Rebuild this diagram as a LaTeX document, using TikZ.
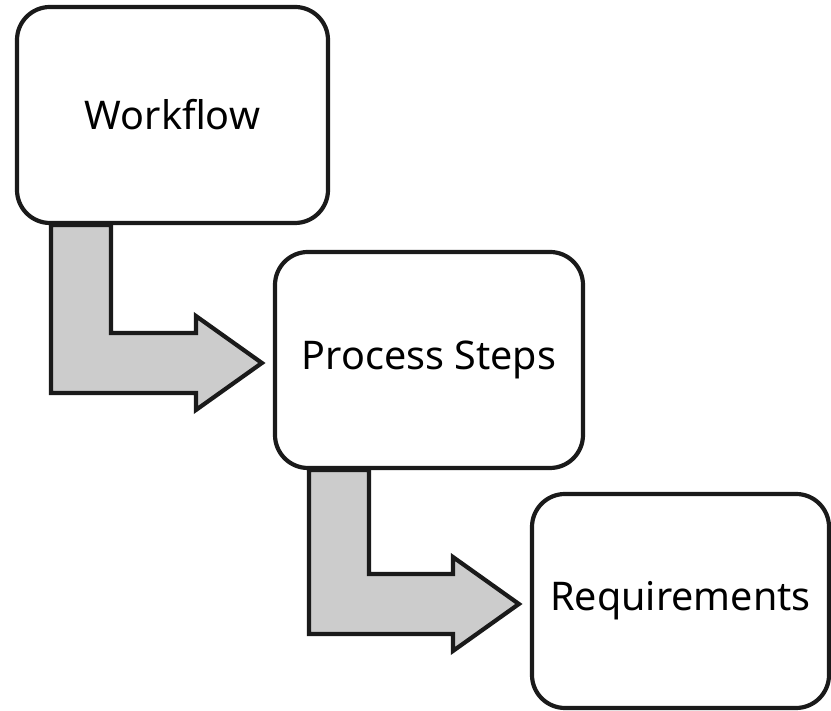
\documentclass[tikz,border=0pt]{standalone}
\usepackage{fontspec}
\setmainfont{Noto Sans}
\usetikzlibrary{calc}
\definecolor{linegray}{HTML}{1A1A1A}
\definecolor{arrowgray}{HTML}{CCCCCC}
% bent block arrow from the bottom of #1 to the left side of #2
\newcommand{\flowstep}[2]{%
  \draw[flowarrow] let \p1=(#1.south west), \p2=($(#2.west)+(-11,-3)$) in
    (\x1+36,\y1) -- (\x1+36,\y2-30) -- (\x2-66,\y2-30) -- (\x2-66,\y2-47)
    -- (\x2,\y2) -- (\x2-66,\y2+47) -- (\x2-66,\y2+30) -- (\x1+96,\y2+30)
    -- (\x1+96,\y1) -- cycle;}
\begin{document}
\begin{tikzpicture}[x=1pt, y=1pt,
  stepbox/.style={draw=linegray, line width=4.2pt, rounded corners=33pt, fill=white,
    minimum height=216pt, inner sep=0pt, font=\fontsize{39.5}{46}\selectfont},
  flowarrow/.style={draw=linegray, line width=4.2pt, fill=arrowgray, line join=miter}]
\useasboundingbox (0,0) rectangle (831,711);
\node[stepbox, minimum width=311pt] (W) at (172.5,596) {Workflow};
\node[stepbox, minimum width=308pt] (P) at (429,351) {Process Steps};
\node[stepbox, minimum width=297pt, minimum height=214pt] (R) at (680.5,110) {Requirements};
\flowstep{W}{P}
\flowstep{P}{R}
\end{tikzpicture}
\end{document}
